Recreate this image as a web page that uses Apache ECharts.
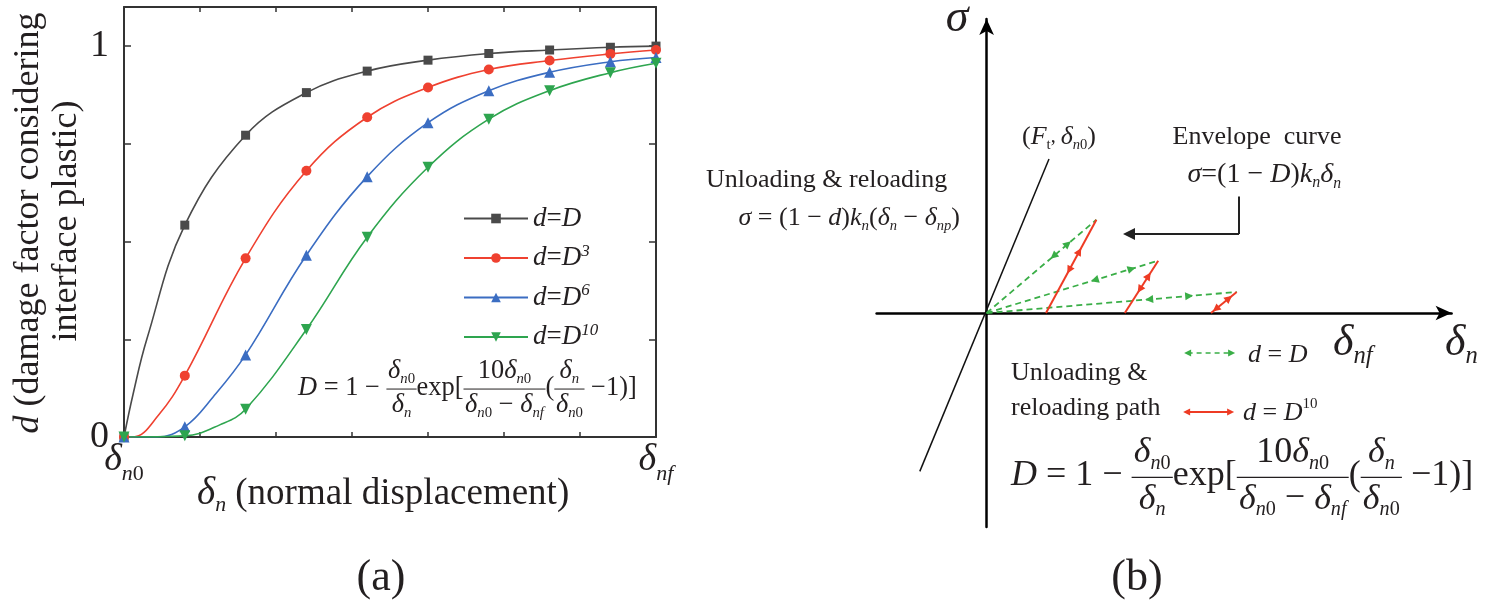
<!DOCTYPE html>
<html><head><meta charset="utf-8">
<script src="https://cdn.jsdelivr.net/npm/echarts@6.0.0/dist/echarts.min.js"></script>
<style>html,body{margin:0;padding:0;background:#fff;}#chart{width:1485px;height:600px;}</style>
</head><body><div id="chart"></div>
<script>
const F = 'Liberation Serif';
const INK = '#231f20';

// ---------------- Panel (a) data ----------------
const seriesNames = ['d=D', 'd=D3', 'd=D6', 'd=D10'];
const seriesPowers = ['', '3', '6', '10'];
const xMarks = [0, 0.8, 1.6, 2.4, 3.2, 4.0, 4.8, 5.6, 6.4, 7.0];
const yD1  = [0, 0.542, 0.772, 0.881, 0.936, 0.964, 0.981, 0.990, 0.997, 1.000];
const yD3  = [0, 0.157, 0.457, 0.681, 0.818, 0.894, 0.940, 0.963, 0.980, 0.990];
const yD6  = [0, 0.026, 0.210, 0.465, 0.666, 0.804, 0.886, 0.933, 0.960, 0.971];
const yD10 = [0, 0.003, 0.071, 0.275, 0.511, 0.690, 0.813, 0.886, 0.932, 0.956];
// extra points on the curves between markers (no marker drawn there)
const xD1extra  = [0.12, 0.30];
const yD1extra  = [0.110, 0.250];
const xD3extra  = [0.12, 0.45];
const yD3extra  = [0.000, 0.055];
const xD6extra  = [0.43, 1.175];
const yD6extra  = [0.000, 0.103];
const xD10extra = [1.26];
const yD10extra = [0.031];
const xTickVals = [0, 7];
const xTickText = ['{d|δ}{s|n}{z|0}', '{d|δ}{s|nf}'];
const yTickVals = [0, 1];
const yTickText = ['0', '1'];

// ---------------- Panel (b) data (schematic units, origin at axes crossing) ----------------
const bElastic = [[-66.8, -158.4], [62.4, 154.0]];
const bPeaks   = [[109.8, 93.3], [171.6, 52.3], [250.1, 21.0]];
const bPlastic = [[59.4, 0], [138.2, 0], [224.4, 0]];
const bGreenArrows = [[[0.61, -1], [0.74, 1]], [[0.63, -1], [0.845, 1]], [[0.65, -1], [0.81, 1]]];
const bRedArrows   = [[[0.46, -1], [0.66, 1]], [[0.45, -1], [0.71, 1]], [[0.19, -1], [0.70, 1]]];
const bConnectorV = [[252.4, 116.6], [252.4, 79.0]];
const bConnectorH = [[252.4, 79.0], [142.4, 79.0]];
const bKeyGreen = [[201, -40], [245, -40]];
const bKeyRed   = [[200, -99], [244, -99]];

// ---------------- helpers ----------------
function buildData(xs, ys, exs, eys) {
  const pts = xs.map((x, i) => ({ value: [x, ys[i]] }));
  exs.forEach((x, i) => pts.push({ value: [x, eys[i]], symbol: 'none' }));
  pts.sort((a, b) => a.value[0] - b.value[0]);
  return pts;
}
function arrowSegs(starts, ends, spec) {
  const out = [];
  starts.forEach((p, i) => {
    const q = ends[i];
    const dx = q[0] - p[0], dy = q[1] - p[1], L = Math.hypot(dx, dy), ux = dx / L, uy = dy / L;
    spec[i].forEach(([f, dir]) => {
      const ax = p[0] + f * dx, ay = p[1] + f * dy;
      out.push({ coords: [[ax - dir * ux * 2, ay - dir * uy * 2], [ax, ay]] });
    });
  });
  return out;
}

const mctx = document.createElement('canvas').getContext('2d');
function tk(text, size, it, dy) { return { text, size, it: !!it, dy: dy || 0 }; }
function fontOf(t) { return (t.it ? 'italic ' : '') + t.size + 'px "' + F + '"'; }
function widthOf(toks) { let w = 0; toks.forEach(t => { mctx.font = fontOf(t); t.w = mctx.measureText(t.text).width; w += t.w; }); return w; }
function dsub(S, subs) {
  return [tk('δ', S, true)].concat(subs.map(([c, it]) => tk(c, S * 0.56, it, S * 0.3)));
}
const G = [];
function placeRun(toks, x, y, color) {
  const w = widthOf(toks); let cx = x;
  toks.forEach(t => {
    G.push({ type: 'text', x: cx, y: y + t.dy, silent: true, z: 100,
      style: { text: t.text, fontFamily: F, fontSize: t.size, fontStyle: t.it ? 'italic' : 'normal',
        fill: color || INK, align: 'left', verticalAlign: 'middle' } });
    cx += t.w;
  });
  return w;
}
function runAt(toks, x, y, align, color) {
  const w = widthOf(toks);
  const x0 = align === 'center' ? x - w / 2 : align === 'right' ? x - w : x;
  placeRun(toks, x0, y, color);
  return w;
}
function frac(num, den, x, y0, S) {
  const wn = widthOf(num), wd = widthOf(den), pad = S * 0.06, w = Math.max(wn, wd) + 2 * pad;
  placeRun(num, x + (w - wn) / 2, y0 - S * 0.64);
  placeRun(den, x + (w - wd) / 2, y0 + S * 0.64);
  G.push({ type: 'line', silent: true, z: 100, shape: { x1: x, y1: y0 + S * 0.04, x2: x + w, y2: y0 + S * 0.04 },
    style: { stroke: INK, lineWidth: Math.max(1, S * 0.035) } });
  return w;
}
function formula(x0, y0, S) {
  let x = x0;
  x += placeRun([tk('D', S, true), tk(' = 1 − ', S)], x, y0);
  x += frac(dsub(S, [['n', 1], ['0', 0]]), dsub(S, [['n', 1]]), x, y0, S);
  x += placeRun([tk('exp[', S)], x, y0);
  x += frac([tk('10', S)].concat(dsub(S, [['n', 1], ['0', 0]])),
            dsub(S, [['n', 1], ['0', 0]]).concat([tk(' − ', S)], dsub(S, [['n', 1], ['f', 1]])), x, y0, S);
  x += placeRun([tk('(', S)], x, y0);
  x += frac(dsub(S, [['n', 1]]), dsub(S, [['n', 1], ['0', 0]]), x, y0, S);
  x += placeRun([tk(' −1)]', S)], x, y0);
}

// ---------------- text annotations ----------------
// panel (a)
G.push({ type: 'text', x: 29, y: 223, rotation: Math.PI / 2, silent: true,
  style: { text: '{i|d} (damage factor considering', fontFamily: F, fontSize: 36, fill: INK, align: 'center', verticalAlign: 'middle',
    rich: { i: { fontFamily: F, fontStyle: 'italic', fontSize: 36, fill: INK } } } });
G.push({ type: 'text', x: 67, y: 221, rotation: Math.PI / 2, silent: true,
  style: { text: 'interface plastic)', fontFamily: F, fontSize: 36, fill: INK, align: 'center', verticalAlign: 'middle' } });
runAt(dsub(39, [['n', 1]]).concat([tk(' (normal displacement)', 37)]), 197, 494, 'left');
formula(298, 388, 26.4);
runAt([tk('(a)', 44)], 381, 578, 'center');
// panel (b)
runAt([tk('σ', 46, 1)], 957, 19, 'center');
runAt([tk('(', 26), tk('F', 26, 1), tk('t', 15, 0, 8), tk(', ', 20)].concat(dsub(26, [['n', 1], ['0', 0]]), [tk(')', 26)]), 1022, 137, 'left');
runAt([tk('Envelope  curve', 26)], 1257, 137, 'center');
runAt([tk('σ', 28, 1), tk('=(1 − ', 28), tk('D', 28, 1), tk(')', 28), tk('k', 28, 1), tk('n', 16, 1, 8)].concat(dsub(28, [['n', 1]])), 1341, 175, 'right');
runAt([tk('Unloading & reloading', 26)], 706, 180, 'left');
runAt([tk('σ', 26, 1), tk(' = (1 − ', 26), tk('d', 26, 1), tk(')', 26), tk('k', 26, 1), tk('n', 15, 1, 8), tk('(', 26)]
  .concat(dsub(26, [['n', 1]]), [tk(' − ', 26)], dsub(26, [['n', 1], ['p', 1]]), [tk(')', 26)]), 960, 218, 'right');
runAt(dsub(44, [['n', 1], ['f', 1]]), 1333, 343, 'left');
runAt(dsub(44, [['n', 1]]), 1445, 343, 'left');
runAt([tk('Unloading &', 26)], 1011, 373, 'left');
runAt([tk('reloading path', 26)], 1011, 408, 'left');
runAt([tk('d', 26, 1), tk(' = ', 26), tk('D', 26, 1)], 1248, 355, 'left');
runAt([tk('d', 26, 1), tk(' = ', 26), tk('D', 26, 1), tk('10', 15, 0, -9)], 1243, 413, 'left');
formula(1011, 476, 36);
runAt([tk('(b)', 44)], 1137, 578, 'center');

// ---------------- chart ----------------
const colorsA = ['#4a4a4a', '#ef4130', '#3b6dc2', '#2ea54f'];
const symbolsA = ['rect', 'circle', 'triangle', 'triangle'];
const symSizeA = [9, 10, 11, 11];
const rotA = [0, 0, 0, 180];
const dataA = [
  buildData(xMarks, yD1, xD1extra, yD1extra),
  buildData(xMarks, yD3, xD3extra, yD3extra),
  buildData(xMarks, yD6, xD6extra, yD6extra),
  buildData(xMarks, yD10, xD10extra, yD10extra)
];
const seriesA = seriesNames.map((n, i) => ({
  name: n, type: 'line', xAxisIndex: 0, yAxisIndex: 0, data: dataA[i],
  smooth: 0.4, symbol: symbolsA[i], symbolSize: symSizeA[i], symbolRotate: rotA[i],
  showAllSymbol: true, color: colorsA[i], lineStyle: { color: colorsA[i], width: 1.6 },
  itemStyle: { color: colorsA[i] }, z: 3
}));

const RED = '#ee3b24', GREEN = '#3aae47';
const bLine = (data, ls, extra) => Object.assign({
  type: 'lines', coordinateSystem: 'cartesian2d', xAxisIndex: 2, yAxisIndex: 2, silent: true,
  data: data, lineStyle: Object.assign({ opacity: 1, curveness: 0 }, ls), symbol: 'none'
}, extra || {});

const seriesB = [
  bLine([{ coords: bElastic }], { color: '#111', width: 1.5 }),
  bLine(bPeaks.map(p => ({ coords: [[0, 0], p] })), { color: GREEN, width: 1.8, type: [6, 4] }),
  bLine(bPlastic.map((p, i) => ({ coords: [p, bPeaks[i]] })), { color: RED, width: 2 }),
  bLine(arrowSegs(bPeaks.map(() => [0, 0]), bPeaks, bGreenArrows), { color: GREEN, width: 1.5 }, { symbol: ['none', 'triangle'], symbolSize: 8 }),
  bLine(arrowSegs(bPlastic, bPeaks, bRedArrows), { color: RED, width: 1.5 }, { symbol: ['none', 'triangle'], symbolSize: 8 }),
  bLine([{ coords: bConnectorV }], { color: '#222', width: 2 }),
  bLine([{ coords: bConnectorH }], { color: '#222', width: 2 }, { symbol: ['none', 'triangle'], symbolSize: 12 }),
  bLine([{ coords: bKeyGreen }], { color: GREEN, width: 1.6, type: [5, 4] }, { symbol: ['triangle', 'triangle'], symbolSize: 7 }),
  bLine([{ coords: bKeyRed }], { color: RED, width: 1.8 }, { symbol: ['triangle', 'triangle'], symbolSize: 7 })
];

const frameLine = { onZero: false, lineStyle: { color: '#333', width: 2 } };
const tickIn = (len) => ({ inside: true, length: len, lineStyle: { color: '#333', width: 1.5 } });
const subRich = {
  d: { fontFamily: F, fontStyle: 'italic', fontSize: 38, color: INK, padding: [0, 0, 6, 0] },
  s: { fontFamily: F, fontStyle: 'italic', fontSize: 22, color: INK, verticalAlign: 'bottom' },
  z: { fontFamily: F, fontSize: 22, color: INK, verticalAlign: 'bottom' }
};

const option = {
  animation: false,
  backgroundColor: '#ffffff',
  textStyle: { fontFamily: F },
  grid: [
    { left: 124, right: 829, top: 7, bottom: 163, show: false },
    { left: 876.6, right: 33.4, top: 19, bottom: 73, show: false }
  ],
  xAxis: [
    { gridIndex: 0, type: 'value', min: 0, max: 7, interval: 1, axisLine: frameLine, axisTick: tickIn(5),
      splitLine: { show: false },
      axisLabel: { margin: 4, formatter: v => { const i = xTickVals.indexOf(v); return i >= 0 ? xTickText[i] : ''; }, rich: subRich } },
    { gridIndex: 0, type: 'value', position: 'top', min: 0, max: 7, interval: 1, axisLine: frameLine, axisTick: tickIn(5),
      splitLine: { show: false }, axisLabel: { show: false } },
    { gridIndex: 1, type: 'value', min: -110, max: 465,
      axisLine: { onZero: true, symbol: ['none', 'arrow'], symbolSize: [11, 16], lineStyle: { color: '#000', width: 2.5 } },
      axisTick: { show: false }, axisLabel: { show: false }, splitLine: { show: false } }
  ],
  yAxis: [
    { gridIndex: 0, type: 'value', min: 0, max: 1.1, interval: 0.25, axisLine: frameLine, axisTick: tickIn(7),
      splitLine: { show: false },
      axisLabel: { margin: 15, fontFamily: F, fontSize: 38, color: INK,
        formatter: v => { const i = yTickVals.findIndex(t => Math.abs(t - v) < 1e-9); return i >= 0 ? yTickText[i] : ''; } } },
    { gridIndex: 0, type: 'value', position: 'right', min: 0, max: 1.1, interval: 0.25, axisLine: frameLine, axisTick: tickIn(7),
      splitLine: { show: false }, axisLabel: { show: false } },
    { gridIndex: 1, type: 'value', min: -214, max: 294,
      axisLine: { onZero: true, symbol: ['none', 'arrow'], symbolSize: [11, 16], lineStyle: { color: '#000', width: 2.5 } },
      axisTick: { show: false }, axisLabel: { show: false }, splitLine: { show: false } }
  ],
  legend: {
    data: seriesNames, left: 458, top: 200, orient: 'vertical', itemWidth: 64, itemHeight: 12, itemGap: 11,
    formatter: n => { const p = seriesPowers[seriesNames.indexOf(n)]; return '{i|d}{r|=}{i|D}' + (p ? '{p|' + p + '}' : ''); },
    textStyle: { color: INK, fontFamily: F, fontSize: 26,
      rich: {
        i: { fontFamily: F, fontStyle: 'italic', fontSize: 27, lineHeight: 30, color: INK },
        r: { fontFamily: F, fontSize: 27, lineHeight: 30, color: INK },
        p: { fontFamily: F, fontStyle: 'italic', fontSize: 17, lineHeight: 17, color: INK, verticalAlign: 'top' }
      } }
  },
  graphic: { elements: G },
  series: seriesA.concat(seriesB)
};

const chart = echarts.init(document.getElementById('chart'), null, { renderer: 'canvas' });
chart.setOption(option);
</script>
</body></html>
